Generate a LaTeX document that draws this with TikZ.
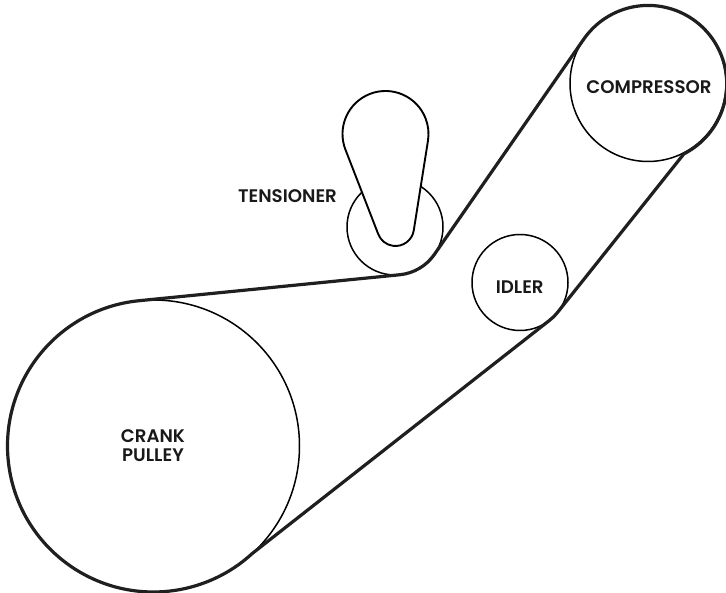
\documentclass[tikz,border=0pt]{standalone}
\usepackage{fontspec}
\setmainfont{Poppins SemiBold}
\usetikzlibrary{calc}
\tikzset{
  pulley/.style={circle,draw=black,line width=1.5pt,inner sep=0pt,outer sep=0pt},
  belt/.style={draw=black!88,line width=3.2pt,line join=round},
  arm/.style={draw=black,line width=1.9pt,fill=white,line join=round},
  lab/.style={font=\fontsize{18.2}{19}\selectfont,text=black!90,align=center,inner sep=0pt}
}
\begin{document}
\begin{tikzpicture}[x=1pt,y=1pt]
\path[use as bounding box,fill=white] (0,0) rectangle (726,593);
% pulleys
\node[pulley,minimum size=292pt] (crank) at (153.5,147) {};
\node[pulley,minimum size=156pt] (comp) at (648,509.5) {};
\node[pulley,minimum size=96pt] (idler) at (520,310.5) {};
\node[pulley,minimum size=96pt] (tens) at (395,366) {};
% tensioner arm
\coordinate (armtop) at (385.5,459);
\coordinate (armlow) at (395.5,365.5);
\path[arm] ($(armtop)+(201.2:43)$) arc[start angle=201.2,end angle=-9,radius=43]
  -- ($(armlow)+(-9:18.5)$) arc[start angle=-9,end angle=-158.8,radius=18.5] -- cycle;
% belt
\coordinate (b1) at ($(crank)+(95.7:146)$);
\coordinate (b2) at ($(idler)+(-51.9:48)$);
\coordinate (b3) at ($(comp)+(-63:79)$);
\coordinate (b4) at ($(tens)+(-34.8:48)$);
\path[belt] (b1) arc[start angle=95.7,end angle=312.6,radius=146]
  -- (b2) arc[start angle=-51.9,end angle=-39,radius=48]
  -- (b3) arc[start angle=-63,end angle=145.2,radius=78.5]
  -- (b4) arc[start angle=-34.8,end angle=-84.3,radius=48]
  -- cycle;
% labels
\node[lab] (lcomp) at (649,506) {COMPRESSOR};
\node[lab] (lidler) at (519.7,306) {IDLER};
\node[lab] (ltens) at (287.5,397) {TENSIONER};
\node[lab] (lcrank) at (153,147) {CRANK\\PULLEY};
\end{tikzpicture}
\end{document}
